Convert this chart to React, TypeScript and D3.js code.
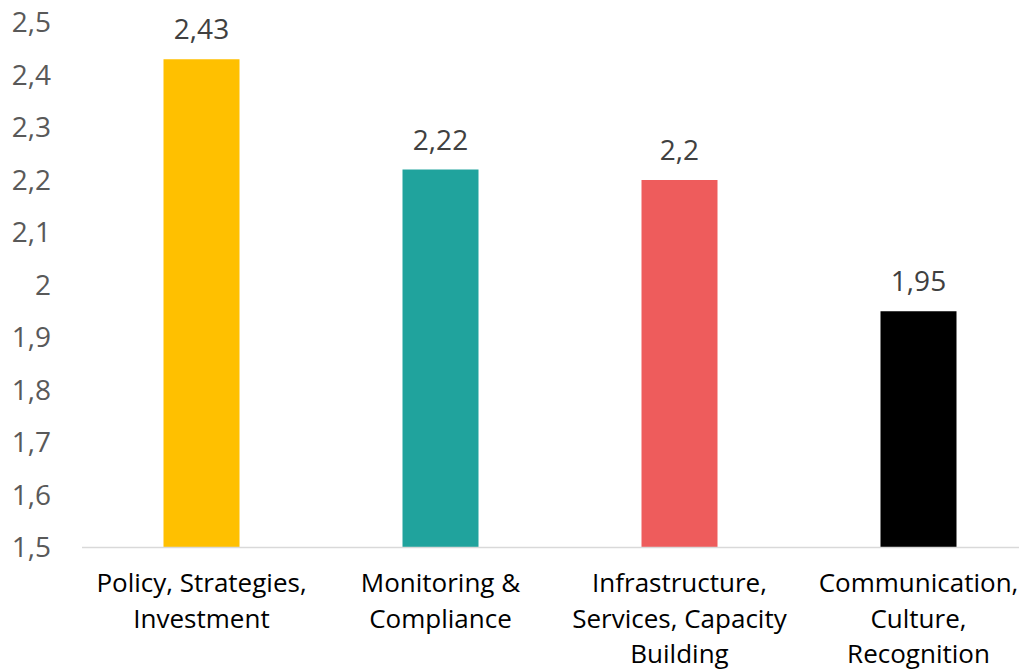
import { useRef, useEffect } from "react";
import * as d3 from "d3";

const categories = [
  "Policy, Strategies, Investment",
  "Monitoring & Compliance",
  "Infrastructure, Services, Capacity Building",
  "Communication, Culture, Recognition",
];
const labelLines = [
  ["Policy, Strategies,", "Investment"],
  ["Monitoring &", "Compliance"],
  ["Infrastructure,", "Services, Capacity", "Building"],
  ["Communication,", "Culture,", "Recognition"],
];
const values = [2.43, 2.22, 2.2, 1.95];
const barColors = ["#FFC000", "#20A39D", "#EE5C5C", "#000000"];
const yTicks = [1.5, 1.6, 1.7, 1.8, 1.9, 2, 2.1, 2.2, 2.3, 2.4, 2.5];

const width = 1019;
const height = 670;
const font = "'Open Sans', 'Noto Sans', sans-serif";

function App() {
  const ref = useRef<SVGSVGElement | null>(null);

  useEffect(() => {
    if (!ref.current) return;
    const svg = d3.select(ref.current).html("");

    const locale = d3.formatLocale({
      decimal: ",",
      thousands: ".",
      grouping: [3],
      currency: ["", "€"],
    });
    const fmt = (v: number) => locale.format("~g")(v);

    const x = d3
      .scaleBand<string>()
      .domain(categories)
      .range([82, 1038])
      .paddingInner(0.682)
      .paddingOuter(0.341);
    const y = d3.scaleLinear().domain([1.5, 2.5]).range([547.5, 22.5]);

    // y tick labels (no axis line)
    svg
      .append("g")
      .selectAll("text")
      .data(yTicks)
      .enter()
      .append("text")
      .attr("x", 51)
      .attr("y", (d) => y(d))
      .attr("dy", "0.35em")
      .attr("text-anchor", "end")
      .style("font-family", font)
      .style("font-size", "28px")
      .style("fill", "#595959")
      .text((d) => fmt(d));

    // bars
    svg
      .append("g")
      .selectAll("rect")
      .data(values)
      .enter()
      .append("rect")
      .attr("x", (d, i) => x(categories[i]) as number)
      .attr("width", x.bandwidth())
      .attr("y", (d) => y(d))
      .attr("height", (d) => y(1.5) - y(d))
      .attr("fill", (d, i) => barColors[i]);

    // baseline
    svg
      .append("line")
      .attr("x1", 82)
      .attr("x2", 1038)
      .attr("y1", y(1.5))
      .attr("y2", y(1.5))
      .attr("stroke", "#d9d9d9")
      .attr("stroke-width", 1.5);

    // value labels
    svg
      .append("g")
      .selectAll("text")
      .data(values)
      .enter()
      .append("text")
      .attr("x", (d, i) => (x(categories[i]) as number) + x.bandwidth() / 2)
      .attr("y", (d) => y(d) - 20)
      .attr("text-anchor", "middle")
      .style("font-family", font)
      .style("font-size", "28px")
      .style("fill", "#404040")
      .text((d) => fmt(d));

    // category labels
    const cat = svg
      .append("g")
      .selectAll("text")
      .data(categories)
      .enter()
      .append("text")
      .attr("text-anchor", "middle")
      .style("font-family", font)
      .style("font-size", "26px")
      .style("fill", "#000");
    cat
      .selectAll("tspan")
      .data((d, i) => labelLines[i].map((t) => ({ t, cx: (x(d) as number) + x.bandwidth() / 2 })))
      .enter()
      .append("tspan")
      .attr("x", (d) => d.cx)
      .attr("y", (d, j) => 592 + j * 35.5)
      .text((d) => d.t);
  }, []);

  return (
    <svg
      ref={ref}
      width={width}
      height={height}
      style={{ position: "absolute", left: 0, top: 0, background: "#fff" }}
    ></svg>
  );
}
export default App;
